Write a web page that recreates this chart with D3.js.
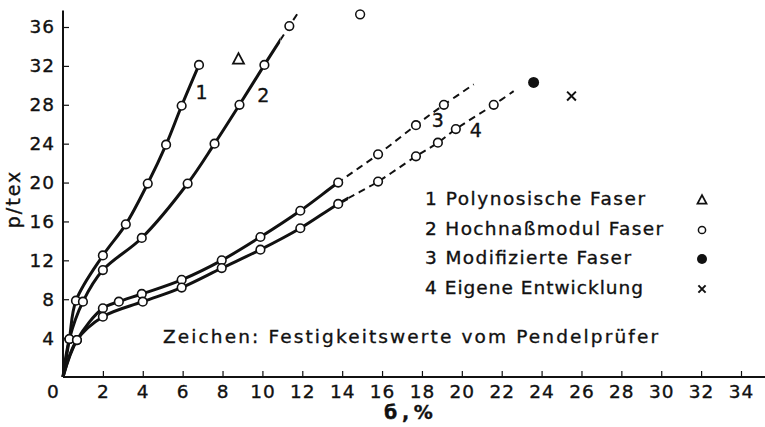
<!DOCTYPE html>
<html><head><meta charset="utf-8">
<script src="https://cdn.jsdelivr.net/npm/d3@7"></script>
<style>
html,body{margin:0;padding:0;background:#fff;}
text{font-family:"DejaVu Sans",sans-serif;fill:#111;stroke:#111;stroke-width:0.35px;}
</style></head>
<body><svg id="c" width="765" height="427"></svg>
<script>
// ---- data ----
const xTicks = [0,2,4,6,8,10,12,14,16,18,20,22,24,26,28,30,32,34];
const yTicks = [4,8,12,16,20,24,28,32,36];
const xLabel = "б , %";
const yLabel = "p/tex";
// curve points [elongation %, p/tex]; first point is origin (no marker), "end" points have no marker
const curve1 = [[0,0],[0.32,3.9],[0.65,7.85],[2.0,12.5],[3.15,15.7],[4.25,19.9],[5.17,23.9],[5.95,27.9],[6.82,32.1]];
const curve2 = [[0,0],[0.32,3.9],[1.0,7.75],[2.0,11.0],[3.95,14.3],[6.25,19.9],[7.6,24.0],[8.85,28.0],[10.1,32.1],[11.35,36.1],[11.8,37.5]];
const curve3 = [[0,0],[0.7,3.8],[2.0,7.07],[2.8,7.75],[3.95,8.54],[5.95,10.0],[7.96,12.0],[9.9,14.4],[11.9,17.1],[13.8,20.0],[15.8,22.9],[17.7,25.9],[19.1,28.0],[20.6,30.1]];
const curve4 = [[0,0],[0.7,3.8],[2.0,6.2],[4.0,7.75],[5.95,9.2],[7.96,11.2],[9.9,13.1],[11.9,15.3],[13.8,17.8],[15.8,20.1],[17.7,22.7],[18.8,24.1],[19.7,25.5],[21.6,28.0],[22.6,29.4]];
const curveNames = ["1","2","3","4"];
const solidUntil = [7, 10.9, 13.9, 14.3];   // beyond: dashed extrapolation
const markerSkipLast = [false, true, true, true];
const curveLabelPos = [[6.95,29.2],[10.05,28.9],[18.8,26.3],[20.7,25.3]];
// pendulum tester strength values
const pendel = [
  {type:"triangle", x:8.8, y:32.7},
  {type:"open", x:14.9, y:37.3},
  {type:"filled", x:23.6, y:30.3},
  {type:"cross", x:25.5, y:28.9}
];
const legendItems = ["1 Polynosische Faser","2 Hochnaßmodul Faser","3 Modifizierte Faser","4 Eigene Entwicklung"];
const legendTypes = ["triangle","open","filled","cross"];
const note = "Zeichen: Festigkeitswerte vom Pendelprüfer";

// ---- layout ----
const svg = d3.select("#c");
const x = d3.scaleLinear().domain([0,34]).range([63,741]);
const y = d3.scaleLinear().domain([0,36]).range([377,27]);

// axes
const gx = svg.append("g").attr("transform","translate(0,377)")
  .call(d3.axisBottom(x).tickValues(xTicks).tickSizeInner(-6).tickSizeOuter(0).tickPadding(8).tickFormat(d3.format("d")));
gx.select(".domain").remove();
gx.selectAll(".tick line").attr("stroke","#111").attr("stroke-width",1.2);
gx.selectAll(".tick").filter(d=>d===0).select("line").remove();
gx.selectAll(".tick").filter(d=>d===0).select("text").attr("dx",-10);
gx.selectAll("text").attr("font-size",18.5).style("letter-spacing","1px").attr("fill","#111");
svg.append("line").attr("x1",x(0)).attr("x2",765).attr("y1",377).attr("y2",377).attr("stroke","#111").attr("stroke-width",2);

const gy = svg.append("g").attr("transform","translate(63,0)")
  .call(d3.axisLeft(y).tickValues(yTicks).tickSizeInner(-6).tickSizeOuter(0).tickPadding(8).tickFormat(d3.format("d")));
gy.select(".domain").remove();
gy.selectAll(".tick line").attr("stroke","#111").attr("stroke-width",1.2);
gy.selectAll("text").attr("font-size",18.5).style("letter-spacing","1px").attr("fill","#111");
svg.append("line").attr("x1",63).attr("x2",63).attr("y1",377).attr("y2",y(37.7)).attr("stroke","#111").attr("stroke-width",2);

svg.append("text").attr("x",x(17.3)).attr("y",419).attr("text-anchor","middle")
  .attr("font-size",19).attr("font-weight","bold").style("letter-spacing","-1px").text(xLabel);
svg.append("text").attr("transform","translate(20,199) rotate(-90)").attr("text-anchor","middle")
  .attr("font-size",19).style("letter-spacing","2px").text(yLabel);

// curves
const curves = [curve1,curve2,curve3,curve4];
const line = d3.line().x(d=>x(d[0])).y(d=>y(d[1])).curve(d3.curveCatmullRom.alpha(0.5));
const defs = svg.append("defs");
curves.forEach((pts,i)=>{
  const sx = x(solidUntil[i]);
  defs.append("clipPath").attr("id","s"+i).append("rect").attr("x",0).attr("y",0).attr("width",sx).attr("height",427);
  defs.append("clipPath").attr("id","d"+i).append("rect").attr("x",sx).attr("y",0).attr("width",765-sx).attr("height",427);
  svg.append("path").attr("d",line(pts)).attr("fill","none").attr("stroke","#111")
    .attr("stroke-width",3).attr("clip-path",`url(#s${i})`);
  svg.append("path").attr("d",line(pts)).attr("fill","none").attr("stroke","#111")
    .attr("stroke-width",2).attr("stroke-dasharray","7,5").attr("clip-path",`url(#d${i})`);
});
curves.forEach((pts,i)=>{
  const m = pts.slice(1, markerSkipLast[i] ? pts.length-1 : pts.length);
  svg.selectAll(null).data(m).enter().append("circle")
    .attr("cx",d=>x(d[0])).attr("cy",d=>y(d[1])).attr("r",4.3)
    .attr("fill","#fff").attr("stroke","#111").attr("stroke-width",1.6);
});
curveNames.forEach((n,i)=>{
  svg.append("text").attr("x",x(curveLabelPos[i][0])).attr("y",y(curveLabelPos[i][1]))
    .attr("text-anchor","middle").attr("dominant-baseline","middle").attr("font-size",19).text(n);
});

// marker drawer
function marker(g, type, cx, cy, s){
  if(type==="triangle"){
    const h=s*0.9;
    g.append("path").attr("d",`M${cx},${cy-h*0.6}L${cx+s/2},${cy+h*0.45}L${cx-s/2},${cy+h*0.45}Z`)
      .attr("fill","none").attr("stroke","#111").attr("stroke-width",1.8);
  } else if(type==="open"){
    g.append("circle").attr("cx",cx).attr("cy",cy).attr("r",s*0.4).attr("fill","#fff").attr("stroke","#111").attr("stroke-width",1.5);
  } else if(type==="filled"){
    g.append("circle").attr("cx",cx).attr("cy",cy).attr("r",s*0.5).attr("fill","#111");
  } else {
    const h=s*0.4;
    g.append("path").attr("d",`M${cx-h},${cy-h}L${cx+h},${cy+h}M${cx+h},${cy-h}L${cx-h},${cy+h}`)
      .attr("stroke","#111").attr("stroke-width",2);
  }
}
pendel.forEach(p=>marker(svg,p.type,x(p.x),y(p.y),11));

// legend
const legY = [200,230,259,289];
const legW = [220,238,206,218];
legendItems.forEach((t,i)=>{
  svg.append("text").attr("x",425).attr("y",legY[i]).attr("dominant-baseline","middle")
    .attr("font-size",18.5).attr("textLength",legW[i]).attr("lengthAdjust","spacing").text(t);
  marker(svg,legendTypes[i],702,legY[i],legendTypes[i]==="open"?9:(legendTypes[i]==="filled"?10:9));
});
svg.append("text").attr("x",163).attr("y",338).attr("dominant-baseline","middle")
  .attr("font-size",18.5).attr("textLength",495).attr("lengthAdjust","spacing").text(note);
</script></body></html>
